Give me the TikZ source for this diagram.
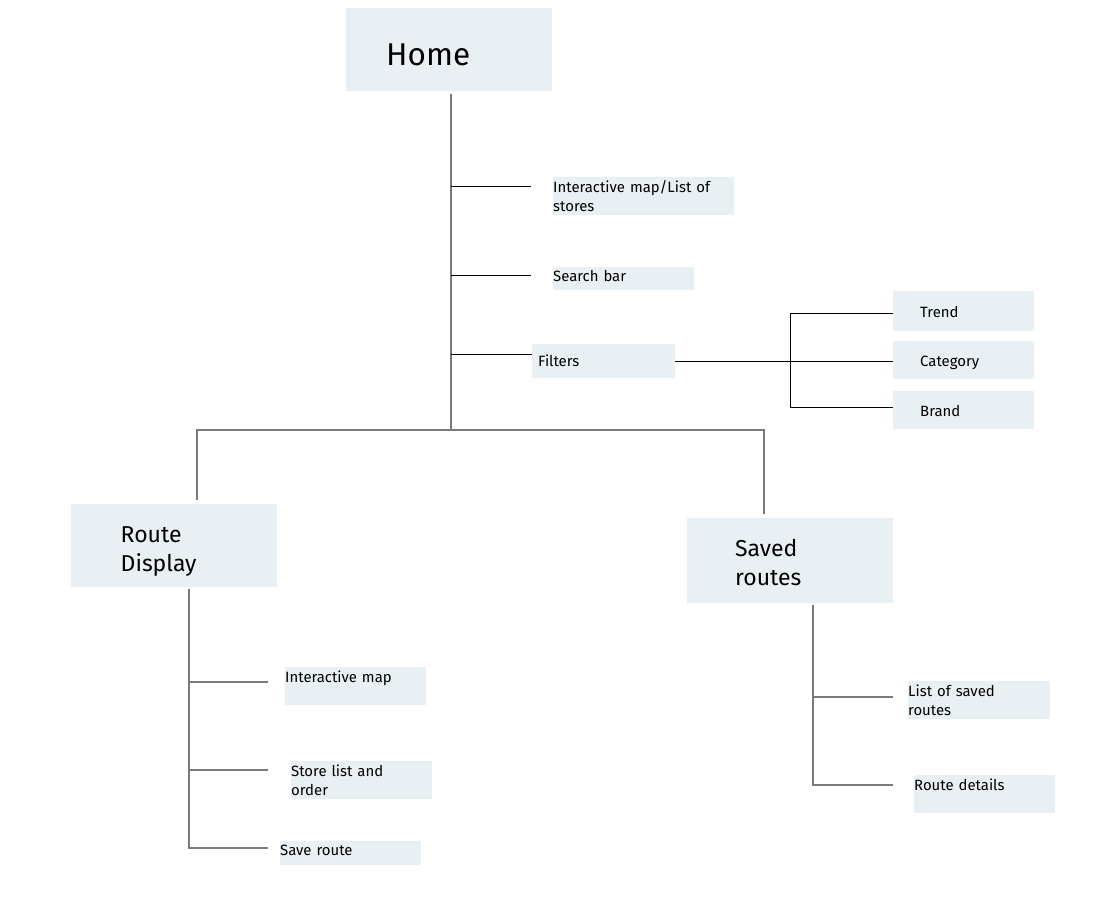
\documentclass[tikz,border=0pt]{standalone}
\usepackage{fontspec}
\setmainfont{Fira Sans}
\usepackage{tikz}
\usetikzlibrary{positioning,shapes}
\definecolor{boxfill}{HTML}{E9F0F3}
\definecolor{linegray}{HTML}{7A7A7A}
\tikzstyle{page}=[
	rectangle,
	fill=boxfill,
	anchor=north west,
	minimum width=206,
	minimum height=84,
	inner xsep=48,
	inner ysep=0,
	text width=110,
	align=left,
	font=\fontsize{23}{29}\selectfont]
\tikzstyle{item}=[
	rectangle,
	fill=boxfill,
	anchor=north west,
	minimum width=141,
	minimum height=38,
	inner xsep=0,
	inner ysep=0,
	text width=141,
	align=left,
	font=\fontsize{14.9}{19}\selectfont]
\tikzstyle{trunk}=[
	draw=linegray,
	line width=1.4]
\tikzstyle{twig}=[
	draw=black,
	line width=1]
\begin{document}
\begin{tikzpicture}[x=1pt,y=-1pt]
	\useasboundingbox (0,0) rectangle (1105,909);
	\node[page,inner xsep=40,text width=126,minimum height=83,text height=32,font=\fontsize{31.5}{36}\selectfont]	(home)	at (346,8)	{Home};
	\node[item,minimum width=181,text width=181]	(mapl)	at (553,177)	{Interactive map/List of\\stores};
	\node[item,minimum height=23,text depth=6]	(search)	at (553,267)	{Search bar};
	\node[item,inner xsep=6,text width=131,minimum width=143,minimum height=34]	(filters)	at (532,344)	{Filters};
	\node[item,inner xsep=27,text width=87,minimum height=40,text height=13,text depth=0]	(trend)	at (893,291)	{Trend};
	\node[item,inner xsep=27,text width=87,text height=13,text depth=0]	(category)	at (893,341)	{Category};
	\node[item,inner xsep=27,text width=87,text height=13,text depth=0]	(brand)	at (893,391)	{Brand};
	\node[page,inner xsep=49,text width=107,minimum height=83,text height=28]	(route)	at (71,504)	{Route\\Display};
	\node[page,minimum height=85,text height=20]	(saved)	at (687,518)	{Saved\\routes};
	\node[item]	(imap)	at (285,667)	{Interactive map\\\mbox{}};
	\node[item]	(store)	at (291,761)	{Store list and\\order};
	\node[item,minimum height=24,text depth=6]	(save)	at (280,841)	{Save route};
	\node[item,minimum width=142,text width=142]	(slist)	at (908,681)	{List of saved\\routes};
	\node[item]	(details)	at (914,775)	{Route details\\\mbox{}};
	\coordinate (hj) at (451,430);
	\coordinate (he) at (531,0);
	\coordinate (h1) at (451,187);
	\coordinate (h2) at (451,276);
	\coordinate (h3) at (451,354);
	\draw[trunk] ([yshift=-3]home.south -| hj) -- (hj);
	\draw[twig] (h1) -- (h1 -| he);
	\draw[twig] (h2) -- (h2 -| he);
	\draw[twig] (h3) -- (h3 -| filters.west);
	\coordinate (fj) at (790,360);
	\draw[twig] (filters.east) -- (filters.east -| category.west);
	\draw[twig] ([yshift=-2]trend.west) -| (fj) |- ([yshift=3]brand.west);
	\coordinate (bl) at (197,430);
	\coordinate (br) at (764,430);
	\draw[trunk] ([yshift=4]route.north -| bl) -- (bl) -- (br) -- ([yshift=4]saved.north -| br);
	\coordinate (rj) at (189,848);
	\coordinate (re) at (268,0);
	\coordinate (r1) at (189,682);
	\coordinate (r2) at (189,770);
	\draw[trunk] ([yshift=-2]route.south -| rj) -- (rj) -- (rj -| re);
	\draw[trunk] (r1) -- (r1 -| re);
	\draw[trunk] (r2) -- (r2 -| re);
	\coordinate (sj) at (813,785);
	\coordinate (se) at (893,0);
	\coordinate (s1) at (813,697);
	\draw[trunk] ([yshift=-2]saved.south -| sj) -- (sj) -- (sj -| se);
	\draw[trunk] (s1) -- (s1 -| se);
\end{tikzpicture}
\end{document}
